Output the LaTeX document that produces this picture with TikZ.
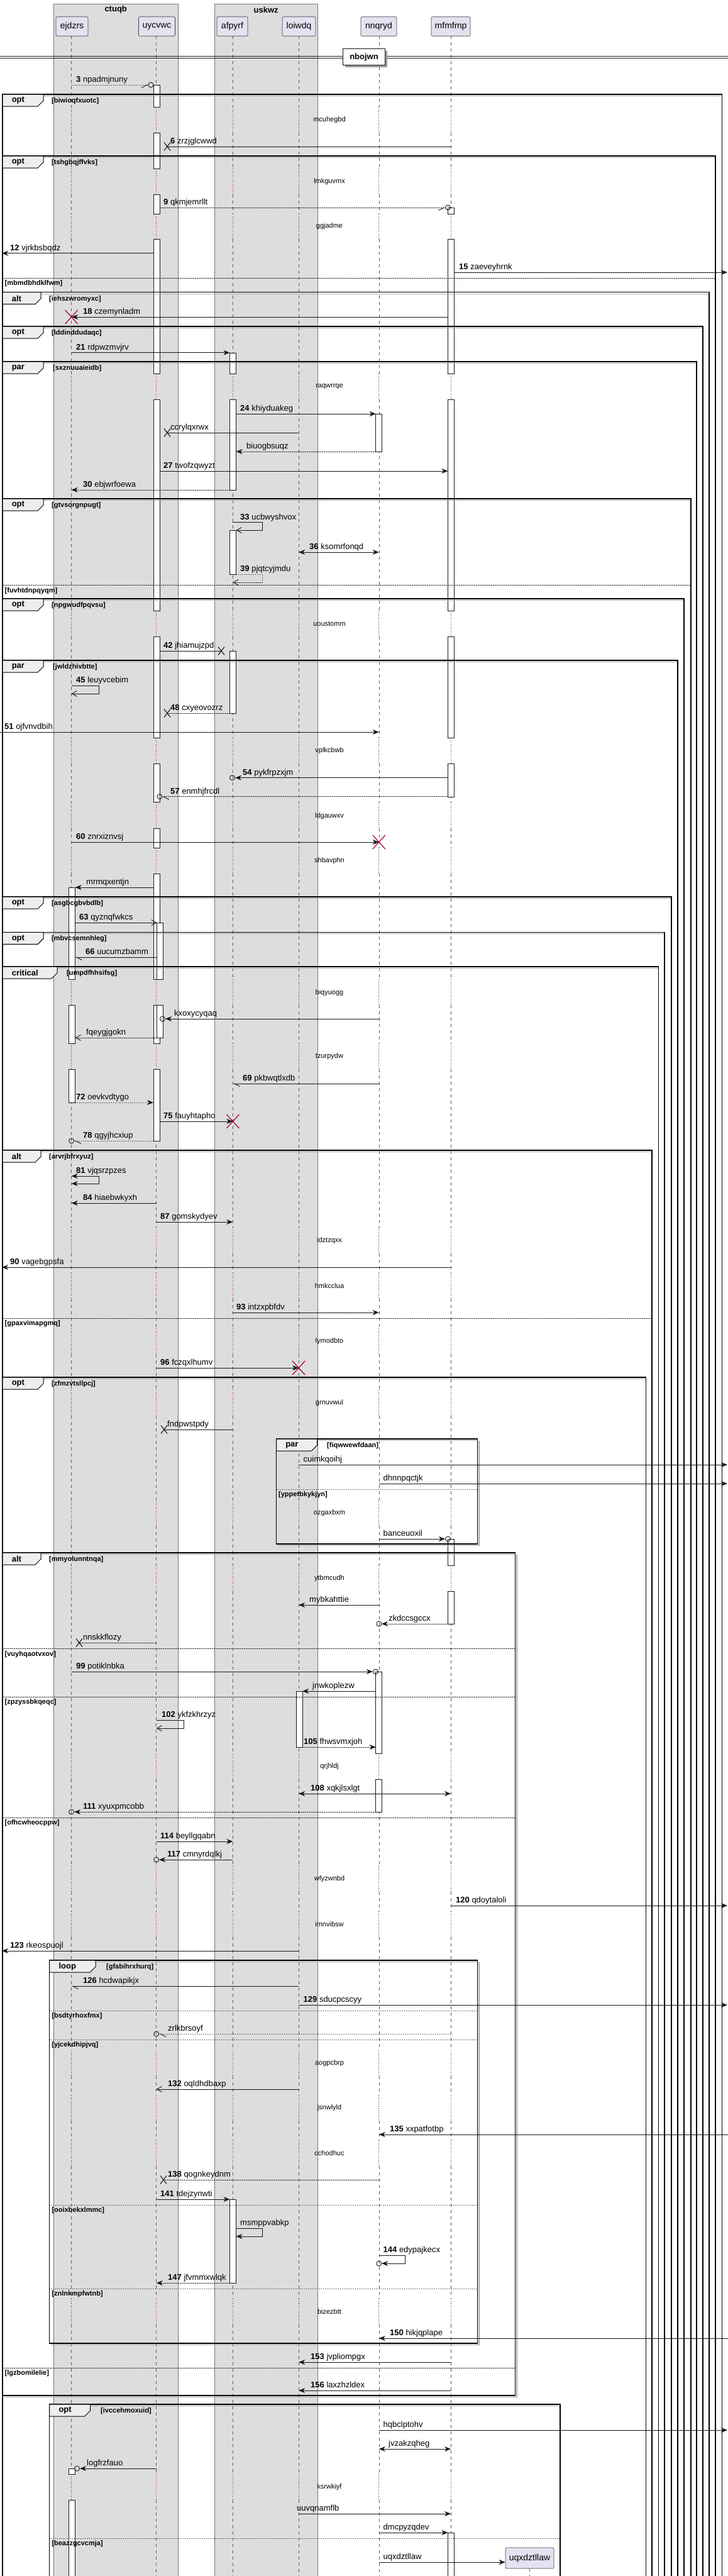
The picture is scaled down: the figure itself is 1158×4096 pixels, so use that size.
\documentclass[tikz,border=0pt]{standalone}
\usepackage{fontspec}
\setmainfont{Liberation Sans}
\usetikzlibrary{arrows.meta}
\definecolor{crim}{HTML}{A80036}
\definecolor{partfill}{HTML}{E2E2F0}
\definecolor{boxfill}{HTML}{DDDDDD}
\definecolor{tabfill}{HTML}{EEEEEE}
\definecolor{ink}{HTML}{181818}
\tikzset{
 lbl/.style={font=\fontsize{13}{15}\selectfont, anchor=base west, inner sep=0pt},
 dlyt/.style={font=\fontsize{11}{13}\selectfont, inner sep=0pt},
 grd/.style={font=\bfseries\fontsize{11}{13}\selectfont, anchor=west, inner sep=0pt},
 tabl/.style={font=\bfseries\fontsize{13}{15}\selectfont, anchor=west, inner sep=0pt},
 m/.style={draw=ink, line width=0.9pt},
 dm/.style={m, dash pattern=on 1.5pt off 1.5pt},
 tf/.style={-{Stealth[length=10pt,width=8pt,inset=3pt]}},
 tbi/.style={{Stealth[length=10pt,width=8pt,inset=3pt]}-{Stealth[length=10pt,width=8pt,inset=3pt]}},
 tb/.style={-{Straight Barb[length=8pt,width=9pt]}},
 thr/.style={-{Straight Barb[right,length=9pt,width=9pt]}},
 thl/.style={-{Straight Barb[left,length=9pt,width=9pt]}},
 life/.style={draw=ink!70, line width=0.6pt, dash pattern=on 5pt off 5pt},
 act/.style={draw=ink, fill=white, line width=0.8pt},
 frm/.style={draw=black, line width=1.4pt},
 tabst/.style={draw=black, fill=tabfill, line width=1pt},
 elsest/.style={draw=ink, line width=0.9pt, dash pattern=on 1.5pt off 1.5pt},
 part/.style={draw=ink!80, fill=partfill, rounded corners=2pt, minimum height=30.6pt, inner sep=0pt, line width=0.7pt, font=\fontsize{14}{16}\selectfont},
 xmark/.pic={\draw[ink, line width=1.1pt] (-5,-6.5) -- (5,6.5) (-5,6.5) -- (5,-6.5);},
 redx/.pic={\draw[crim, line width=1.2pt] (-10,-11) -- (10,11) (-10,11) -- (10,-11);}
}
\newcommand\myframe[8]{%
 \draw[black!35, line width=1pt] (#1+1.5,#2+2.4) -- (#3,#2+2.4);
 \draw[frm] (#1,#2) rectangle (#3,#4);
 \draw[tabst] (#1,#2) -- (#1+#5,#2) -- (#1+#5,#2+10) -- (#1+#5-9,#2+19) -- (#1,#2+19) -- cycle;
 \node[tabl] at (#1+14.6,#2+10) {#6};
 \node[grd] at (#7,#2+10.7) {#8};
}
\newcommand\myelse[4]{\draw[elsest] (#1,#3) -- (#2,#3); \node[grd] at (#1+3.5,#3+9) {#4};}
\newcommand\mylab[3]{\node[lbl] at (#1,#2-4.5) {#3};}
\newcommand\mycirc[2]{\draw[m] (#1,#2) circle[radius=4pt];}
\newcommand\mydelay[2]{\node[dlyt] at (524,#1) {#2};}
\begin{document}
\begin{tikzpicture}[x=1pt,y=-1pt]
\useasboundingbox (0,0) rectangle (1158,4096);
\fill[white] (0,0) rectangle (1158,4096);
% participant groups
\fill[boxfill] (85.4,6) rectangle (282.9,4110);
\draw[ink!60, line width=0.5pt] (85.4,4110) -- (85.4,6) -- (282.9,6) -- (282.9,4110);
\fill[boxfill] (340.8,6) rectangle (505.6,4110);
\draw[ink!60, line width=0.5pt] (340.8,4110) -- (340.8,6) -- (505.6,6) -- (505.6,4110);
\node[font=\bfseries\fontsize{13}{15}\selectfont] (tctuqb) at (184.2,15.5) {ctuqb};
\node[font=\bfseries\fontsize{13}{15}\selectfont] (tuskwz) at (423.2,15.5) {uskwz};
% participants
\node[part, minimum width=51pt] (pE) at (114.5,42) {ejdzrs};
\node[part, minimum width=58pt] (pU) at (249.5,42) {uycvwc};
\node[part, minimum width=49pt] (pA) at (369.5,42) {afpyrf};
\node[part, minimum width=53pt] (pL) at (475.5,42) {loiwdq};
\node[part, minimum width=57pt] (pN) at (602.5,42) {nnqryd};
\node[part, minimum width=62pt] (pM) at (717,42) {mfmfmp};
% lifelines
\foreach \x in {113.6,248.7,370.4,475.1,602.8,717.2} {
 \foreach \a/\b in {57.3/170,211/268,309/340,380/594,635/971,1012/1173,1214/1276,1317/1348,1389/1557,1598/1659,1700/1952,1993/2024,2065/2112,2153/2210,2251/2385,2426/2489,2530/2788,2829/2967,3008/3039,3080/3260,3301/3331,3372/3403,3444/3655,3696/3934,3975/4110} {
  \draw[life] (\x,\a) -- (\x,\b);
 }
}
\foreach \x/\c in {113.6/ink,248.7/crim,370.4/crim,475.1/ink,602.8/ink,717.2/crim} {
 \foreach \a/\b in {170/211,268/309,340/380,594/635,971/1012,1173/1214,1276/1317,1348/1389,1557/1598,1659/1700,1952/1993,2024/2065,2112/2153,2210/2251,2385/2426,2489/2530,2788/2829,2967/3008,3039/3080,3260/3301,3331/3372,3403/3444,3655/3696,3934/3975} {
  \draw[draw=\c, line width=0.8pt, dash pattern=on 1pt off 2.5pt] (\x,\a) -- (\x,\b);
 }
}
% divider
\draw[ink, line width=0.9pt] (0,89.3) -- (1158,89.3) (0,92.3) -- (1158,92.3);
\fill[black!40] (549,81) rectangle (615.5,107);
\node[draw=ink, fill=white, line width=1.2pt, minimum width=67pt, minimum height=26pt, inner sep=0pt, font=\bfseries\fontsize{13}{15}\selectfont] (dv) at (579,90.8) {nbojwn};
% delays
\mydelay{191}{mcuhegbd}
\mydelay{289}{lmkguvmx}
\mydelay{360}{ggjadme}
\mydelay{615}{raqwrrqe}
\mydelay{992}{uoustomm}
\mydelay{1194}{vplkcbwb}
\mydelay{1298}{ldgauwxv}
\mydelay{1369}{shbavphn}
\mydelay{1579}{biqyuogg}
\mydelay{1680}{tzurpydw}
\mydelay{1973}{idztzqxx}
\mydelay{2045}{hmkcclua}
\mydelay{2133}{lymodbto}
\mydelay{2231}{grnuvwul}
\mydelay{2406}{ozgaxbxm}
\mydelay{2510}{ytbmcudh}
\mydelay{2809}{qrjhldj}
\mydelay{2988}{wfyzwnbd}
\mydelay{3060}{imnvibsw}
\mydelay{3281}{aogpcbrp}
\mydelay{3352}{jsnwlyld}
\mydelay{3424}{cchodhuc}
\mydelay{3676}{bizezbtt}
\mydelay{3955}{ksrwkiyf}
% activations
\foreach \a/\b in {135/170,211/268,309/340,380/594,635/971,1012/1173,1214/1275,1317/1348,1389/1557,1598/1659,1700/1814} \draw[act] (244,\a) rectangle (254,\b);
\foreach \a/\b in {1467/1557,1598/1650} \draw[act] (249.7,\a) rectangle (259.7,\b);
\foreach \a/\b in {330/340,380/594,635/971,1012/1173,1214/1267,2447/2489,2530/2582,4027/4110} \draw[act] (712.5,\a) rectangle (722.5,\b);
\foreach \a/\b in {561/594,635/779,843/913,1035/1134,3497/3630} \draw[act] (365.5,\a) rectangle (375.5,\b);
\foreach \a/\b in {658/718,2658/2788,2829/2881} \draw[act] (597.8,\a) rectangle (607.8,\b);
\foreach \a/\b in {2689/2778} \draw[act] (471,\a) rectangle (481,\b);
\foreach \a/\b in {1411/1557,1598/1659,1700/1753,3925/3934,3975/4110} \draw[act] (109.6,\a) rectangle (119.6,\b);
% created participant
\draw[life] (842.5,4084) -- (842.5,4110);
\node[part, minimum width=77pt, minimum height=33pt] (pX) at (842.5,4067.5) {uqxdztllaw};
% frames
\myframe{4}{150}{1148.5}{4110}{65}{opt}{82}{[biwioqfxuotc]}
\myframe{4}{248}{1138}{4110}{65}{opt}{82}{[tshgbqjffvks]}
\myelse{4}{1138}{442}{[mbmdbhdklfwm]}
\myframe{4}{464.7}{1128}{4110}{61}{alt}{78}{[iehszwromyxc]}
\myframe{4}{519}{1118}{4110}{65}{opt}{82}{[lddinddudaqc]}
\myframe{4}{575}{1108}{4110}{65}{par}{84}{[sxznuuaieidb]}
\myframe{4}{793}{1099}{4110}{65}{opt}{82}{[gtvsorgnpugt]}
\myelse{4}{1099}{930.7}{[fuvhtdnpqyqm]}
\myframe{4}{952}{1088}{4110}{65}{opt}{82}{[npgwudfpqvsu]}
\myframe{4}{1050}{1078}{4110}{65}{par}{84}{[jwldzhivbtte]}
\myframe{4}{1426}{1068}{4110}{65}{opt}{82}{[asgbcgbvbdlb]}
\myframe{4}{1482.3}{1057}{4110}{65}{opt}{82}{[mbvcsemnhleg]}
\myframe{4}{1537}{1047.5}{4110}{87}{critical}{106}{[umpdfhhsifsg]}
\myframe{4}{1829}{1037}{4110}{61}{alt}{78}{[arvrjbfrxyuz]}
\myelse{4}{1037}{2096}{[gpaxvimapgmq]}
\myframe{4}{2190}{1027.5}{4110}{65}{opt}{82}{[zfmzvtsllpcj]}
\draw[black!35, line width=1.2pt] (762,2291) -- (762,2457.5) -- (442,2457.5);
\myframe{439.5}{2288}{759.5}{2455}{65}{par}{520}{[fiqwwewfdaan]}
\myelse{439.5}{759.5}{2368}{[yppetbkykjyn]}
\draw[black!35, line width=1.2pt] (822,2472) -- (822,3811.5) -- (7,3811.5);
\myframe{4}{2469}{819.6}{3809}{61}{alt}{78}{[mmyolunntnqa]}
\myelse{4}{819.6}{2621.7}{[vuyhqaotvxov]}
\myelse{4}{819.6}{2698}{[zpzyssbkqeqc]}
\myelse{4}{819.6}{2890}{[ofhcwheocppw]}
\myelse{4}{819.6}{3765}{[lgzbomilelie]}
\draw[black!35, line width=1.2pt] (762,3120) -- (762,3728.5) -- (81,3728.5);
\myframe{78.7}{3117}{759.5}{3726}{73.5}{loop}{169}{[gfabihrxhurq]}
\myelse{78.7}{759.5}{3197}{[bsdtyrhoxfmx]}
\myelse{78.7}{759.5}{3243}{[yjcekdhipjvq]}
\myelse{78.7}{759.5}{3506}{[ooixbekxlmmc]}
\myelse{78.7}{759.5}{3639}{[znlnkmpfwtnb]}
\myframe{78.7}{3823}{891}{4110}{65}{opt}{160}{[ivccehmoxuid]}
\myelse{78.7}{891}{4036}{[beazzgcvcmja]}
% messages
\draw[dm, thr] (113.6,135) -- (236,135); \mycirc{240}{135}
\mylab{121}{135}{\textbf{3} npadmjnuny}
\draw[m] (717.2,233) -- (266,233); \pic at (266,233) {xmark};
\mylab{271}{233}{\textbf{6} zrzjglcwwd}
\draw[dm, thr] (254,330) -- (708.5,330); \mycirc{712.5}{330}
\mylab{260}{330}{\textbf{9} qkmjemrllt}
\draw[m, tf] (244,402.7) -- (3,402.7);
\mylab{16}{402.7}{\textbf{12} vjrkbsbqdz}
\draw[m, tf] (722.5,433) -- (1157,433);
\mylab{730}{433}{\textbf{15} zaeveyhrnk}
\draw[m, tf] (712.5,504) -- (114,504); \pic at (113.6,504) {redx};
\mylab{132}{504}{\textbf{18} czemynladm}
\draw[m, tf] (113.6,560.7) -- (365.5,560.7);
\mylab{121}{560.7}{\textbf{21} rdpwzmvjrv}
\draw[m, tf] (375.5,658) -- (597.8,658);
\mylab{382}{658}{\textbf{24} khiyduakeg}
\draw[m] (475.1,688) -- (266,688); \pic at (266,688) {xmark};
\mylab{271}{688}{ccrylqxrwx}
\draw[dm, tf] (597.8,718) -- (375.5,718);
\mylab{392}{718}{biuogbsuqz}
\draw[m, tf] (254,749) -- (712.5,749);
\mylab{260}{749}{\textbf{27} twofzqwyzt}
\draw[dm, tf] (365.5,779) -- (113.6,779);
\mylab{132}{779}{\textbf{30} ebjwrfoewa}
\draw[m, tb] (370.4,830.7) -- (417,830.7) -- (417,843) -- (375.5,843);
\mylab{382}{830.7}{\textbf{33} ucbwyshvox}
\draw[m, tbi] (475.1,878) -- (602.8,878);
\mylab{492}{878}{\textbf{36} ksomrfonqd}
\draw[dm, tb] (375.5,913) -- (417,913) -- (417,926) -- (370.4,926);
\mylab{382}{913}{\textbf{39} pjqtcyjmdu}
\draw[m] (254,1035) -- (352,1035); \pic at (352,1035) {xmark};
\mylab{260}{1035}{\textbf{42} jhiamujzpd}
\draw[m, tb] (113.6,1090) -- (157,1090) -- (157,1103) -- (113.6,1103);
\mylab{121}{1090}{\textbf{45} leuyvcebim}
\draw[dm] (365.5,1134) -- (266,1134); \pic at (266,1134) {xmark};
\mylab{271}{1134}{\textbf{48} cxyeovozrz}
\draw[m, tf] (0,1164) -- (602.8,1164);
\mylab{7}{1164}{\textbf{51} ojfvnvdbih}
\draw[m, tf] (712.5,1236.7) -- (374,1236.7); \mycirc{369.5}{1236.7}
\mylab{386}{1236.7}{\textbf{54} pykfrpzxjm}
\draw[dm, thl] (712.5,1266.7) -- (258,1266.7); \mycirc{254}{1266.7}
\mylab{271}{1266.7}{\textbf{57} enmhjfrcdl}
\draw[m, tf] (113.6,1339) -- (602.8,1339); \pic at (602.8,1339) {redx};
\mylab{121}{1339}{\textbf{60} znrxiznvsj}
\draw[m, tf] (244,1411) -- (119.6,1411);
\mylab{137}{1411}{mrmqxentjn}
\draw[m, tb] (119.6,1467) -- (249.7,1467);
\mylab{126}{1467}{\textbf{63} qyznqfwkcs}
\draw[m, thl] (249.7,1522) -- (119.6,1522);
\mylab{136}{1522}{\textbf{66} uucumzbamm}
\draw[m, tf] (602.8,1620) -- (263,1620); \mycirc{258.5}{1620}
\mylab{277}{1620}{kxoxycyqaq}
\draw[dm, tb] (249.7,1650) -- (119.6,1650);
\mylab{137}{1650}{fqeygjgokn}
\draw[m, thl] (602.8,1723) -- (370.4,1723);
\mylab{386}{1723}{\textbf{69} pkbwqtlxdb}
\draw[dm, tf] (119.6,1753) -- (244,1753);
\mylab{121}{1753}{\textbf{72} oevkvdtygo}
\draw[m, tf] (254,1783) -- (370.4,1783); \pic at (370.4,1783) {redx};
\mylab{260}{1783}{\textbf{75} fauyhtapho}
\draw[dm, thl] (244,1814) -- (118,1814); \mycirc{113.6}{1814}
\mylab{132}{1814}{\textbf{78} qgyjhcxiup}
\draw[m, tbi] (113.6,1870) -- (157,1870) -- (157,1882) -- (113.6,1882);
\mylab{121}{1870}{\textbf{81} vjqsrzpzes}
\draw[m, tf] (248.7,1913) -- (113.6,1913);
\mylab{132}{1913}{\textbf{84} hiaebwkyxh}
\draw[m, tf] (248.7,1943) -- (370.4,1943);
\mylab{255}{1943}{\textbf{87} gomskydyev}
\draw[m, tf] (717.2,2015) -- (3,2015);
\mylab{16}{2015}{\textbf{90} vagebgpsfa}
\draw[m, tf] (370.4,2087) -- (602.8,2087);
\mylab{376}{2087}{\textbf{93} intzxpbfdv}
\draw[m, tf] (248.7,2175) -- (475.1,2175); \pic at (475.1,2175) {redx};
\mylab{255}{2175}{\textbf{96} fczqxlhumv}
\draw[m] (370.4,2273) -- (261,2273); \pic at (261,2273) {xmark};
\mylab{266}{2273}{fndpwstpdy}
\draw[m, tf] (475.1,2329) -- (1157,2329);
\mylab{482.5}{2329}{cuimkqoihj}
\draw[m, tf] (602.8,2359) -- (1157,2359);
\mylab{609.5}{2359}{dhnnpqctjk}
\draw[m, tf] (602.8,2447) -- (708,2447); \mycirc{712.5}{2447}
\mylab{609.5}{2447}{banceuoxil}
\draw[m, tf] (602.8,2552) -- (475.1,2552);
\mylab{492}{2552}{mybkahttie}
\draw[dm, tf] (712.5,2582) -- (607,2582); \mycirc{602.8}{2582}
\mylab{618}{2582}{zkdccsgccx}
\draw[dm] (248.7,2612) -- (126,2612); \pic at (126,2612) {xmark};
\mylab{132}{2612}{nnskkflozy}
\draw[m, tf] (113.6,2658) -- (593,2658); \mycirc{597.5}{2658}
\mylab{121}{2658}{\textbf{99} potiklnbka}
\draw[m, tf] (597.8,2689) -- (481,2689);
\mylab{497}{2689}{jnwkoplezw}
\draw[m, tb] (248.7,2735) -- (292,2735) -- (292,2748) -- (248.7,2748);
\mylab{257}{2735}{\textbf{102} ykfzkhrzyz}
\draw[dm, tf] (481,2778) -- (597.8,2778);
\mylab{483}{2778}{\textbf{105} fhwsvmxjoh}
\draw[m, tbi] (475.1,2852) -- (717.2,2852);
\mylab{494}{2852}{\textbf{108} xqkjlsxlgt}
\draw[dm, tf] (597.8,2881) -- (118,2881); \mycirc{113.6}{2881}
\mylab{132}{2881}{\textbf{111} xyuxpmcobb}
\draw[m, tf] (248.7,2928) -- (370.4,2928);
\mylab{255}{2928}{\textbf{114} beyllgqabn}
\draw[m, tf] (370.4,2957) -- (253,2957); \mycirc{248.7}{2957}
\mylab{266}{2957}{\textbf{117} cmnyrdqlkj}
\draw[m, tf] (717.2,3030) -- (1157,3030);
\mylab{725}{3030}{\textbf{120} qdoytaloli}
\draw[m, tf] (475.1,3102) -- (3,3102);
\mylab{16}{3102}{\textbf{123} rkeospuojl}
\draw[m, thl] (475.1,3158) -- (113.6,3158);
\mylab{132}{3158}{\textbf{126} hcdwapikjx}
\draw[m, tf] (475.1,3188) -- (1157,3188);
\mylab{482.5}{3188}{\textbf{129} sducpcscyy}
\draw[dm, thl] (717.2,3234) -- (253,3234); \mycirc{248.7}{3234}
\mylab{267}{3234}{zrlkbrsoyf}
\draw[m, tb] (475.1,3322) -- (248.7,3322);
\mylab{267}{3322}{\textbf{132} oqldhdbaxp}
\draw[m, tf] (1158,3394) -- (602.8,3394);
\mylab{620}{3394}{\textbf{135} xxpatfotbp}
\draw[dm] (602.8,3466) -- (260,3466); \pic at (260,3466) {xmark};
\mylab{267}{3466}{\textbf{138} qognkeydnm}
\draw[m, tf] (248.7,3497) -- (365.5,3497);
\mylab{255}{3497}{\textbf{141} tdejzynwti}
\draw[m, tf] (375.5,3543) -- (417,3543) -- (417,3556) -- (375.5,3556);
\mylab{382}{3543}{msmppvabkp}
\draw[m, tf] (602.8,3586) -- (644,3586) -- (644,3599) -- (607,3599); \mycirc{602.8}{3599}
\mylab{609.5}{3586}{\textbf{144} edypajkecx}
\draw[dm, tf] (365.5,3630) -- (248.7,3630);
\mylab{267}{3630}{\textbf{147} jfvmmxwlqk}
\draw[m, tf] (1158,3718) -- (602.8,3718);
\mylab{620}{3718}{\textbf{150} hikjqplape}
\draw[m, tf] (717.2,3756) -- (475.1,3756);
\mylab{494}{3756}{\textbf{153} jvpliompgx}
\draw[m, tf] (717.2,3801) -- (475.1,3801);
\mylab{494}{3801}{\textbf{156} laxzhzldex}
\draw[m, tf] (602.8,3864) -- (1157,3864);
\mylab{609.5}{3864}{hqbclptohv}
\draw[m, tbi] (602.8,3894) -- (717.2,3894);
\mylab{618}{3894}{jvzakzqheg}
\draw[m, tf] (248.7,3925) -- (127,3925); \mycirc{122.5}{3925}
\mylab{138}{3925}{logfrzfauo}
\draw[m, tf] (475.1,3997) -- (717.2,3997);
\mylab{472}{3997}{uuvqnamflb}
\draw[m, tf] (602.8,4027) -- (712.5,4027);
\mylab{609.5}{4027}{dmcpyzqdev}
\draw[m, tf] (602.8,4074) -- (pX.west |- 0,4074);
\mylab{609.5}{4074}{uqxdztllaw}
\end{tikzpicture}
\end{document}
